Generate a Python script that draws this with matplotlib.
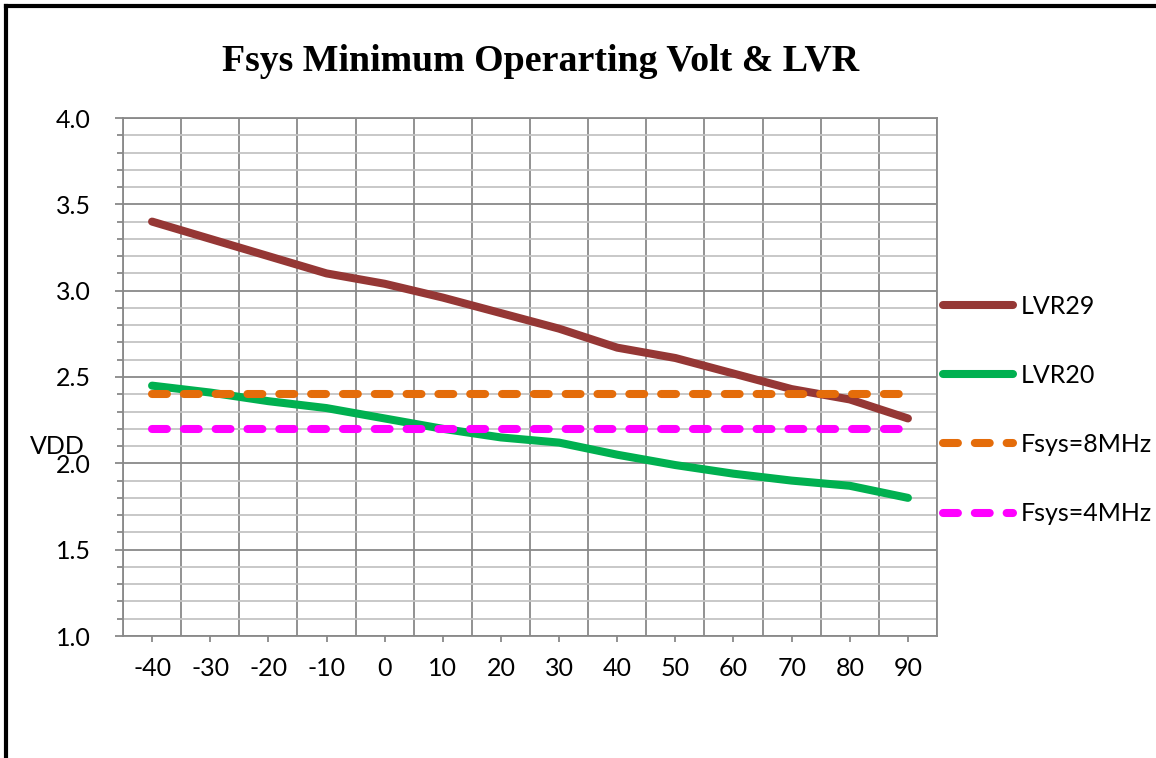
import matplotlib
matplotlib.use("Agg")
import matplotlib.pyplot as plt
from matplotlib.lines import Line2D
from matplotlib.ticker import MultipleLocator, FixedLocator

# temperature points (deg C) and measured voltages
temps = [-40, -30, -20, -10, 0, 10, 20, 30, 40, 50, 60, 70, 80, 90]
lvr29 = [3.40, 3.30, 3.20, 3.10, 3.04, 2.96, 2.87, 2.78, 2.67, 2.61, 2.52, 2.43, 2.37, 2.26]
lvr20 = [2.45, 2.41, 2.36, 2.32, 2.26, 2.20, 2.15, 2.12, 2.05, 1.99, 1.94, 1.90, 1.87, 1.80]
fsys_8m = [2.4] * len(temps)
fsys_4m = [2.2] * len(temps)

series_names = ["LVR29", "LVR20", "Fsys=8MHz", "Fsys=4MHz"]
colors = ["#953735", "#00B050", "#E46C0A", "#FF00FF"]

plt.rcParams["font.family"] = ["Lato", "DejaVu Sans"]

W, H = 1156, 758
fig = plt.figure(figsize=(W / 100, H / 100), dpi=100)
ax = fig.add_axes([123 / W, 1 - 636 / H, (937 - 123) / W, (636 - 118) / H])

x = list(range(len(temps)))
lw = 5.8
ax.plot(x, lvr29, color=colors[0], lw=lw, solid_capstyle="round", solid_joinstyle="round",
        label=series_names[0], zorder=3)
ax.plot(x, lvr20, color=colors[1], lw=lw, solid_capstyle="round", solid_joinstyle="round",
        label=series_names[1], zorder=3)
ax.plot(x, fsys_8m, color=colors[2], lw=lw, dashes=(1.85, 2.1), dash_capstyle="round",
        label=series_names[2], zorder=3)
ax.plot(x, fsys_4m, color=colors[3], lw=lw, dashes=(1.85, 2.1), dash_capstyle="round",
        label=series_names[3], zorder=3)

ax.set_xlim(-0.5, len(temps) - 0.5)
ax.set_ylim(1.0, 4.0)

# category axis: labels at centres, gridlines between categories
ax.xaxis.set_major_locator(FixedLocator(x))
ax.set_xticklabels([str(t) for t in temps])
ax.xaxis.set_minor_locator(FixedLocator([i + 0.5 for i in range(-1, len(temps))]))
ax.yaxis.set_major_locator(MultipleLocator(0.5))
ax.yaxis.set_minor_locator(MultipleLocator(0.1))
ax.yaxis.set_major_formatter(matplotlib.ticker.FormatStrFormatter("%.1f"))

grid_dark = "#898989"
grid_light = "#c4c4c4"
ax.grid(which="minor", axis="x", color=grid_dark, lw=1.3)
ax.grid(which="minor", axis="y", color=grid_light, lw=1.3)
ax.grid(which="major", axis="y", color=grid_dark, lw=1.3)
ax.set_axisbelow(True)

ax.tick_params(axis="x", which="major", length=4, width=1.3, color=grid_dark,
               labelsize=18, pad=11)
ax.tick_params(axis="x", which="minor", length=0)
ax.tick_params(axis="y", which="major", length=6, width=1.3, color=grid_dark,
               labelsize=18, pad=17)
ax.tick_params(axis="y", which="minor", length=4, width=1.3, color=grid_dark)
for side in ["left", "bottom", "right", "top"]:
    ax.spines[side].set_color(grid_dark)
    ax.spines[side].set_linewidth(1.3)

fig.text(0.026, 1 - 446 / H, "VDD", fontsize=18, va="center", ha="left")

fig.text(541 / W, 1 - 71 / H, "Fsys Minimum Operarting Volt & LVR",
         family="Liberation Serif", weight="bold", fontsize=27.3,
         ha="center", va="baseline")

fig.legend(loc="center left", bbox_to_anchor=(943 / W, 1 - 410 / H), frameon=False,
           fontsize=18, handlelength=2.8, handletextpad=0.3, labelspacing=1.85,
           borderpad=0, borderaxespad=0)

# outer chart border
fig.add_artist(Line2D([6 / W, 6 / W], [0, 1 - 6 / H], color="black", lw=3,
                      transform=fig.transFigure))
fig.add_artist(Line2D([6 / W, 1], [1 - 6 / H, 1 - 6 / H], color="black", lw=3,
                      transform=fig.transFigure))

fig.savefig("out.png", dpi=100, facecolor="white")
